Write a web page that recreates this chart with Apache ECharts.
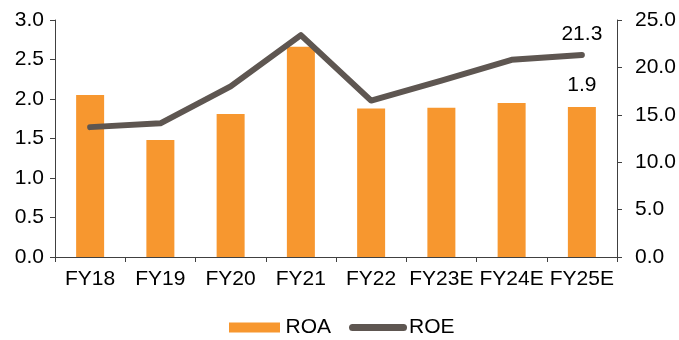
<!DOCTYPE html>
<html>
<head>
<meta charset="UTF-8">
<title>ROA / ROE</title>
<script type="text/javascript" src="https://cdn.jsdelivr.net/npm/echarts@6/dist/echarts.min.js"></script>
<style>
  html, body { margin: 0; padding: 0; background: #fff; }
  #main { width: 679px; height: 340px; }
</style>
</head>
<body>
<div id="main"></div>
<script type="text/javascript">
    // data
    var years = ['FY18', 'FY19', 'FY20', 'FY21', 'FY22', 'FY23E', 'FY24E', 'FY25E'];
    var roa = [2.05, 1.48, 1.81, 2.66, 1.88, 1.89, 1.95, 1.9];
    var roe = [13.7, 14.1, 18.0, 23.4, 16.5, 18.6, 20.8, 21.3];

    var font = 'Liberation Sans, Arial, sans-serif';
    var axisColor = '#404040';
    var fs = 21;

    var myChart = echarts.init(document.getElementById('main'));
    myChart.setOption({
        animation: false,
        textStyle: { fontFamily: font, color: '#000' },
        grid: { left: 55, right: 62, top: 20, bottom: 83 },
        legend: {
            top: 317,
            left: 229,
            itemWidth: 58,
            itemHeight: 10,
            itemGap: 18,
            padding: 0,
            textStyle: { fontFamily: font, fontSize: fs, color: '#000', padding: [0, 0, 0, -3] },
            data: [
                { name: 'ROA', icon: 'path://M0,0 L51,0 L51,10 L0,10 Z' },
                { name: 'ROE', icon: 'path://M3.5,0 L54.5,0 A3.5,3.5 0 0 1 54.5,7 L3.5,7 A3.5,3.5 0 0 1 3.5,0 Z' }
            ]
        },
        xAxis: {
            type: 'category',
            data: years,
            axisLine: { lineStyle: { color: axisColor, width: 1 } },
            axisTick: { show: true, length: 5, lineStyle: { color: axisColor } },
            axisLabel: { fontSize: fs, color: '#000', margin: 12, fontFamily: font, interval: 0 }
        },
        yAxis: [{
            type: 'value',
            min: 0, max: 3, interval: 0.5,
            splitLine: { show: false },
            axisLine: { show: true, lineStyle: { color: axisColor } },
            axisTick: { show: true, length: 5, lineStyle: { color: axisColor } },
            axisLabel: {
                fontSize: fs, color: '#000', margin: 11, fontFamily: font,
                formatter: function (v) { return v.toFixed(1); }
            }
        }, {
            type: 'value',
            min: 0, max: 25, interval: 5,
            splitLine: { show: false },
            axisLine: { show: true, lineStyle: { color: axisColor } },
            axisTick: { show: true, length: 5, lineStyle: { color: axisColor } },
            axisLabel: {
                fontSize: fs, color: '#000', margin: 18, fontFamily: font,
                formatter: function (v) { return v.toFixed(1); }
            }
        }],
        series: [{
            name: 'ROA',
            type: 'bar',
            data: roa,
            barWidth: 28,
            itemStyle: { color: '#F7972F' },
            label: {
                show: true, position: 'top', distance: 11,
                fontSize: fs, color: '#000', fontFamily: font,
                formatter: function (p) {
                    return p.dataIndex === roa.length - 1 ? p.value.toFixed(1) : '';
                }
            }
        }, {
            name: 'ROE',
            type: 'line',
            yAxisIndex: 1,
            data: roe,
            symbol: 'none',
            lineStyle: { color: '#5E5651', width: 6, cap: 'round', join: 'round' },
            itemStyle: { color: '#5E5651' },
            markPoint: {
                symbol: 'circle', symbolSize: 0,
                label: {
                    show: true, position: 'top', distance: 10,
                    fontSize: fs, color: '#000', fontFamily: font,
                    formatter: function (p) { return p.value.toFixed(1); }
                },
                data: [{ coord: [roe.length - 1, roe[roe.length - 1]], value: roe[roe.length - 1] }]
            }
        }]
    });
</script>
</body>
</html>
